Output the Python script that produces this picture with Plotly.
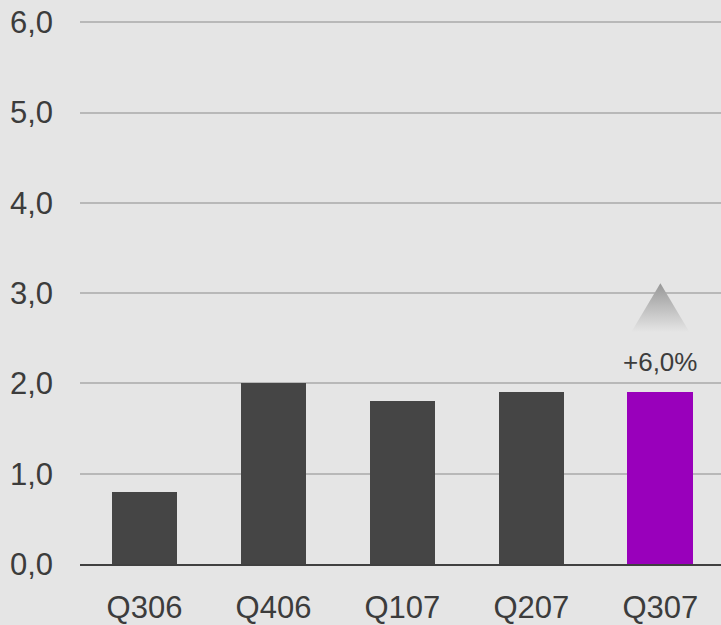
import plotly.graph_objects as go

categories = ["Q306", "Q406", "Q107", "Q207", "Q307"]
values = [0.8, 2.0, 1.8, 1.9, 1.9]
bar_colors = ["#454545", "#454545", "#454545", "#454545", "#9900bb"]
tick_vals = [0, 1, 2, 3, 4, 5, 6]
tick_text = ["0,0", "1,0", "2,0", "3,0", "4,0", "5,0", "6,0"]
growth_label = "+6,0%"

BG = "#e5e5e5"
TXT = "#3c3c3c"

fig = go.Figure()
xs = list(range(len(categories)))
fig.add_trace(go.Bar(x=xs, y=values, marker=dict(color=bar_colors, line=dict(width=0)),
                     width=0.51, hoverinfo="skip"))

# arrow triangle above last bar
last = xs[-1]
base_y = values[-1] + 0.67
apex_y = values[-1] + 1.21
half = 0.225
fig.add_trace(go.Scatter(
    x=[last - half, last, last + half, last - half],
    y=[base_y, apex_y, base_y, base_y],
    mode="lines", line=dict(width=0), fill="toself",
    fillgradient=dict(type="vertical",
                      colorscale=[[0, "rgba(229,229,229,1)"], [1, "#979797"]]),
    hoverinfo="skip", showlegend=False))

fig.add_annotation(x=last, y=values[-1] + 0.34, text=growth_label, showarrow=False,
                   yanchor="middle",
                   font=dict(size=26, color=TXT, family="Liberation Sans, Arial"))

fig.update_layout(
    width=721, height=625,
    margin=dict(l=80, r=0, t=20, b=61, autoexpand=False),
    paper_bgcolor=BG, plot_bgcolor=BG,
    showlegend=False,
    font=dict(family="Liberation Sans, Arial", color=TXT, size=31),
    xaxis=dict(range=[-0.5, 4.47], tickmode="array", tickvals=xs, ticktext=categories,
               showgrid=False, zeroline=False, showline=True, linecolor="#404040",
               linewidth=2, ticks="", ticklabelstandoff=15, fixedrange=True,
               automargin=False),
    yaxis=dict(range=[0, 6.025], tickmode="array", tickvals=tick_vals, ticktext=tick_text,
               showgrid=True, gridcolor="#b8b8b8", gridwidth=1.5, zeroline=False,
               showline=False, ticks="", ticklabelstandoff=26, fixedrange=True,
               automargin=False),
    bargap=0,
)

fig.write_html("out.html", config={"displayModeBar": False},
               post_script="document.body.style.margin='0';document.body.style.background='#e5e5e5';")
